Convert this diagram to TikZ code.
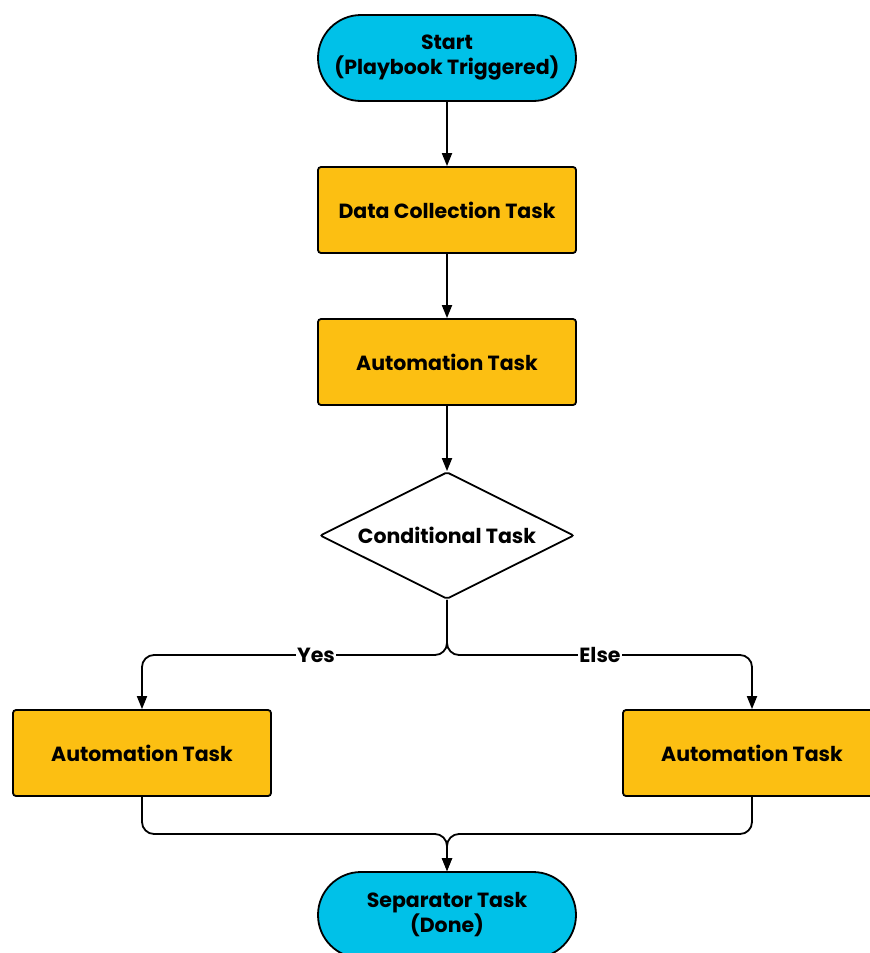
\documentclass[tikz,border=0pt]{standalone}
\usepackage{fontspec}
\setmainfont{Poppins}
\usetikzlibrary{shapes.misc,shapes.geometric,arrows.meta}
\definecolor{cyanfill}{HTML}{00C1E8}
\definecolor{yellowfill}{HTML}{FCBF12}
\begin{document}
\begin{tikzpicture}[x=1pt,y=-1pt,
  base/.style={draw=black,line width=1.8pt,font=\fontsize{20.5}{25}\selectfont\bfseries,align=center,inner sep=0pt},
  terminal/.style={base,rounded rectangle,fill=cyanfill,minimum width=258pt,minimum height=86pt},
  taskbox/.style={base,rectangle,rounded corners=3pt,fill=yellowfill,minimum width=258pt,minimum height=86pt},
  decision/.style={base,diamond,fill=white,aspect=2,minimum width=254pt,minimum height=127pt,rounded corners=2pt},
  conn/.style={line width=1.8pt,-{Triangle[length=13pt,width=10pt]},rounded corners=12pt},
  lbl/.style={fill=white,inner sep=1pt,font=\fontsize{20.5}{25}\selectfont\bfseries}]
\useasboundingbox (0,0) rectangle (870,953);
\node[terminal] (start) at (447,58) {Start\\(Playbook Triggered)};
\node[taskbox] (data) at (447,210) {Data Collection Task};
\node[taskbox] (auto1) at (447,362) {Automation Task};
\node[decision] (cond) at (447,535.5) {Conditional Task};
\node[taskbox] (autoL) at (142,753) {Automation Task};
\node[taskbox] (autoR) at (752,753) {Automation Task};
\node[terminal] (done) at (447,915) {Separator Task\\(Done)};
\draw[conn] (start) -- (data);
\draw[conn] (data) -- (auto1);
\draw[conn] (auto1) -- (cond);
\draw[conn] (cond.south) |- (295,655) -| (autoL.north);
\draw[conn] (cond.south) |- (600,655) -| (autoR.north);
\node[lbl] (yes) at (316,655) {Yes};
\node[lbl] (else) at (600,655) {Else};
\draw[conn] (autoL.south) |- (300,834) -| (done.north);
\draw[conn] (autoR.south) |- (600,834) -| (done.north);
\end{tikzpicture}
\end{document}
